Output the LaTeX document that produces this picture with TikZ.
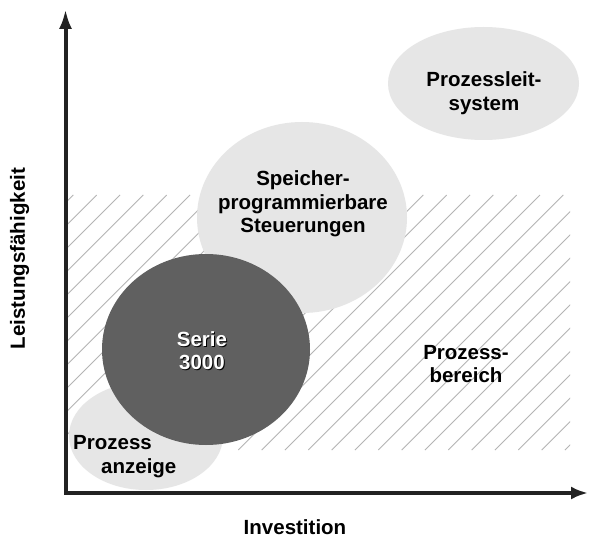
\documentclass[tikz,border=0pt]{standalone}
\usepackage{fontspec}
\setmainfont{Liberation Sans}
\usetikzlibrary{shapes.geometric,arrows.meta}
\definecolor{lightfill}{HTML}{E6E6E6}
\definecolor{darkfill}{HTML}{606060}
\definecolor{hatchgray}{HTML}{B4B4B4}
\definecolor{axiscol}{HTML}{222222}
\newcommand\shadowed[1]{\makebox[0pt][l]{\hspace{1pt}\raisebox{-1pt}{\color{black}#1}}#1}
\begin{document}
\begin{tikzpicture}[x=1pt,y=-1pt,
  blob/.style={ellipse, inner sep=0pt, draw=none},
  lbl/.style={font=\fontsize{20.5}{23.5}\selectfont\bfseries, inner sep=0pt, align=center},
  axis/.style={line width=4pt, draw=axiscol, {Latex[length=20pt,width=13pt]}-{Latex[length=17pt,width=13pt]}}
]
\useasboundingbox[fill=white] (0,0) rectangle (589,540);
% hatched region
\begin{scope}
  \clip (68,195) rectangle (570,450);
  \foreach \k in {11,...,43}{
    \pgfmathsetmacro\cc{11.67+23.333*\k}
    \draw[hatchgray, line width=0.9pt] (\cc-450,450) -- (\cc-195,195);
  }
\end{scope}
% ellipses
\node[blob, fill=lightfill, minimum width=210pt, minimum height=191pt] (plc) at (302,217.5) {};
\node[blob, fill=lightfill, minimum width=191pt, minimum height=113pt] (pls) at (483.5,83.5) {};
\node[blob, fill=lightfill, minimum width=154pt, minimum height=108pt] (pa) at (146,436) {};
\node[blob, fill=darkfill, minimum width=208pt, minimum height=191pt] (serie) at (206,349.5) {};
% labels
\node[lbl] (tpls) at (484,93) {Prozessleit-\\system};
\node[lbl] (tplc) at (303,204) {Speicher-\\programmierbare\\Steuerungen};
\node[lbl, text=white] (tserie) at (202,351) {\shadowed{Serie}\\\shadowed{3000}};
\node[lbl, align=left, anchor=west] (tpa) at (73,456.5) {Prozess\\\hspace*{28pt}anzeige};
\node[lbl] (tpb) at (466,364) {Prozess-\\bereich};
\node[lbl] (tx) at (295,527) {Investition};
\node[lbl, rotate=90] (ty) at (19.5,258.5) {Leistungsfähigkeit};
% axes
\coordinate (ytip) at (65.5,9);
\coordinate (orig) at (65.5,493);
\coordinate (xtip) at (588,493);
\draw[axis] (ytip) -- (orig) -- (xtip);
\end{tikzpicture}
\end{document}
